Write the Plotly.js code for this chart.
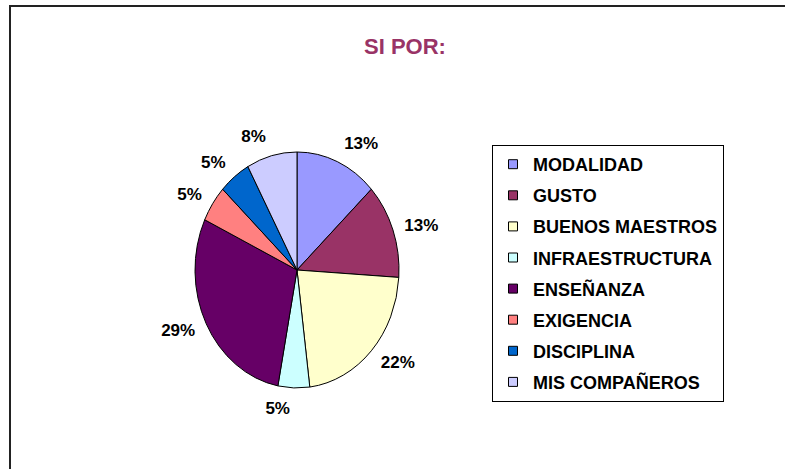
<!DOCTYPE html>
<html>
<head>
<meta charset="utf-8">
<script src="https://cdn.plot.ly/plotly-3.0.1.min.js"></script>
<style>
html, body { margin: 0; padding: 0; background: #fff; }
#chart { width: 785px; height: 469px; }
</style>
</head>
<body>
<div id="chart"></div>
<script>
// Data
const categories = ["MODALIDAD", "GUSTO", "BUENOS MAESTROS", "INFRAESTRUCTURA", "ENSEÑANZA", "EXIGENCIA", "DISCIPLINA", "MIS COMPAÑEROS"];
const percents = [13, 13, 22, 5, 29, 5, 5, 8];
const sliceColors = ["#9999FF", "#993366", "#FFFFCC", "#CCFFFF", "#660066", "#FF8080", "#0066CC", "#CCCCFF"];
const chartTitle = "SI POR:";

const W = 785, H = 469;
const FONT = "Arial, 'Liberation Sans', sans-serif";

// Pie geometry (pixels): the original pie is a slightly tall ellipse
const cx = 297, cy = 270;
const rx = 102, ry = 118;
const r = Math.sqrt(rx * ry);      // radius of the drawn circle before the vertical stretch
const rLabel = 119;                // radius on which the percentage labels sit (before stretch)
const sx = rx / r, sy = ry / r;

function domainFor(rad) {
  return { x: [(cx - rad) / W, (cx + rad) / W], y: [(H - cy - rad) / H, (H - cy + rad) / H] };
}

// Slices
const pieTrace = {
  type: "pie",
  labels: categories,
  values: percents,
  sort: false,
  direction: "clockwise",
  rotation: 0,
  marker: { colors: sliceColors, line: { color: "#000000", width: 1 } },
  textinfo: "none",
  showlegend: false,
  hoverinfo: "label+percent",
  domain: domainFor(r)
};

// Same data on a slightly larger, invisible pie that only carries the outside percentage labels
const labelTrace = {
  type: "pie",
  labels: categories,
  values: percents,
  sort: false,
  direction: "clockwise",
  rotation: 0,
  marker: { colors: categories.map(() => "rgba(0,0,0,0)"), line: { width: 0 } },
  textinfo: "percent",
  texttemplate: "%{percent}",
  textposition: "outside",
  outsidetextfont: { family: FONT, size: 17, color: "#000000", weight: "bold" },
  showlegend: false,
  hoverinfo: "skip",
  domain: domainFor(rLabel)
};

// Legend entries (one per category so that they can be spaced like the original)
const legendTraces = categories.map((name, i) => ({
  type: "scatter",
  mode: "markers",
  x: [null], y: [null],
  name: name,
  legendgroup: "g" + i,
  marker: { symbol: "square", size: 9, color: sliceColors[i], line: { color: "#000000", width: 1 } },
  hoverinfo: "skip",
  showlegend: true
}));

const layout = {
  width: W, height: H,
  margin: { l: 0, r: 0, t: 0, b: 0 },
  paper_bgcolor: "#ffffff",
  plot_bgcolor: "#ffffff",
  title: {
    text: chartTitle,
    x: 405 / W, xanchor: "center",
    y: 1 - 46 / H, yanchor: "middle",
    font: { family: FONT, size: 22, color: "#993366", weight: "bold" }
  },
  xaxis: { visible: false, fixedrange: true },
  yaxis: { visible: false, fixedrange: true },
  showlegend: true,
  legend: {
    x: 492 / W, xanchor: "left",
    y: 1 - 145 / H, yanchor: "top",
    bgcolor: "#ffffff",
    bordercolor: "#000000",
    borderwidth: 1,
    font: { family: FONT, size: 18, color: "#000000", weight: "bold" },
    tracegroupgap: 4.7,
    itemclick: false, itemdoubleclick: false
  },
  shapes: [
    { type: "rect", xref: "paper", yref: "paper",
      x0: 10 / W, x1: 1.05, y0: -0.05, y1: 1 - 6 / H,
      line: { color: "#222222", width: 2 }, fillcolor: "rgba(0,0,0,0)", layer: "below" }
  ]
};

function stretch(el) {
  el.setAttribute("transform",
    "translate(" + cx + "," + cy + ") scale(" + sx + "," + sy + ") translate(" + (-cx) + "," + (-cy) + ")");
}

Plotly.newPlot("chart", [pieTrace, labelTrace].concat(legendTraces), layout, { staticPlot: true, displayModeBar: false })
  .then(function (gd) {
    // stretch the pie into the original's ellipse, keeping the label glyphs undistorted
    const traces = gd.querySelectorAll(".pielayer .trace");
    if (traces.length > 0) {
      stretch(traces[0]);
      traces[0].querySelectorAll("path.surface").forEach(function (p) {
        p.style.vectorEffect = "non-scaling-stroke";
      });
    }
    if (traces.length > 1) {
      stretch(traces[1]);
      traces[1].querySelectorAll("text").forEach(function (t) {
        const bb = t.getBBox();
        let px = bb.x + bb.width / 2, py = bb.y + bb.height / 2;
        const list = t.transform && t.transform.baseVal;
        const m = list && list.numberOfItems ? list.consolidate().matrix : null;
        if (m) {
          const qx = m.a * px + m.c * py + m.e;
          const qy = m.b * px + m.d * py + m.f;
          px = qx; py = qy;
        }
        const orig = t.getAttribute("transform") || "";
        t.setAttribute("transform",
          "translate(" + px + "," + py + ") scale(" + (1 / sx) + "," + (1 / sy) + ") translate(" + (-px) + "," + (-py) + ") " + orig);
      });
    }
  });
</script>
</body>
</html>
